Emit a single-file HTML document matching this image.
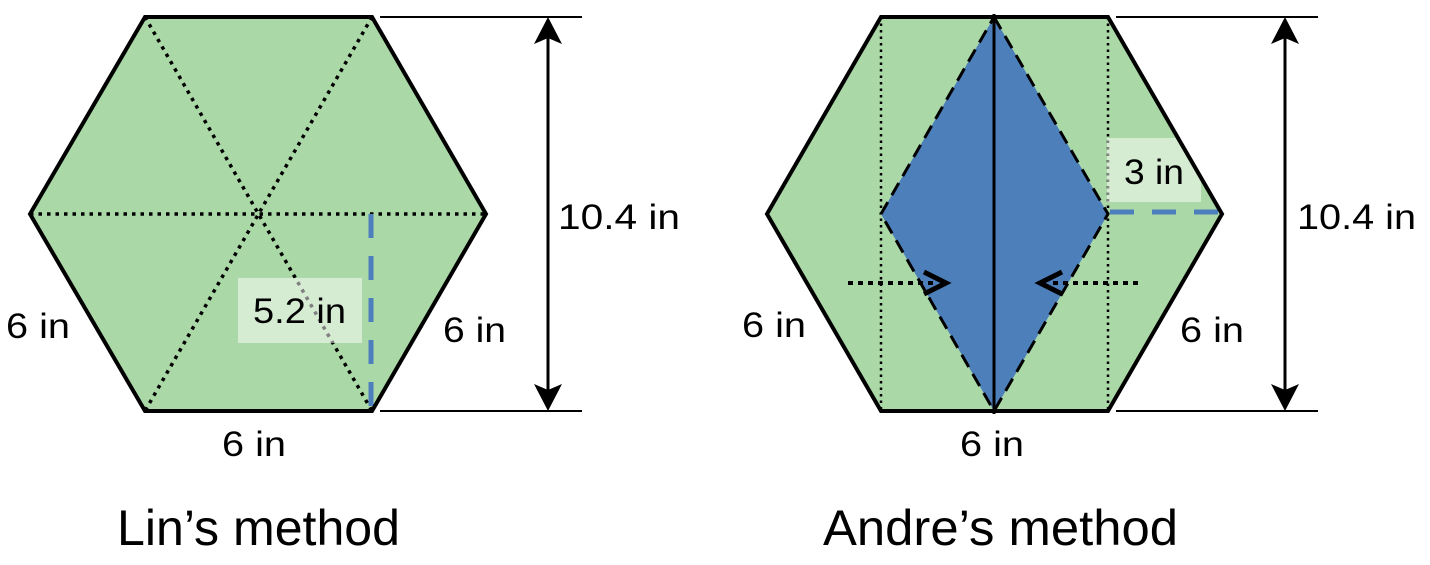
<!DOCTYPE html>
<html><head><style>html,body{margin:0;padding:0;background:#fff}svg{display:block}</style></head>
<body>
<svg width="1430" height="565" viewBox="0 0 1430 565" xmlns="http://www.w3.org/2000/svg" font-family="Liberation Sans, sans-serif">
<!-- Left hexagon -->
<polygon points="145,17 372,17 486,214 372,411 145,411 30,214" fill="#abd8a7"/>
<g stroke="#000" stroke-width="3.5" stroke-dasharray="3.5,5" fill="none">
<line x1="145" y1="17" x2="372" y2="411"/>
<line x1="372" y1="17" x2="145" y2="411"/>
<line x1="30" y1="214" x2="486" y2="214"/>
</g>
<line x1="371" y1="214" x2="371" y2="408" stroke="#4c7fbb" stroke-width="5" stroke-dasharray="24,18"/>
<rect x="238" y="278" width="124" height="65" fill="#fff" fill-opacity="0.5"/>
<polygon points="145,17 372,17 486,214 372,411 145,411 30,214" fill="none" stroke="#000" stroke-width="4" stroke-linejoin="miter"/>
<line x1="380" y1="17" x2="582" y2="17" stroke="#000" stroke-width="2"/>
<line x1="380" y1="411" x2="582" y2="411" stroke="#000" stroke-width="2"/>
<line x1="548" y1="30" x2="548" y2="398" stroke="#000" stroke-width="3"/>
<polygon points="548,17 562,44 548,38 534,44" fill="#000"/>
<polygon points="548,411 562,384 548,390 534,384" fill="#000"/>
<g font-size="35" fill="#000">
<text x="253" y="323" textLength="93" lengthAdjust="spacingAndGlyphs">5.2 in</text>
<text x="6" y="338" textLength="64" lengthAdjust="spacingAndGlyphs">6 in</text>
<text x="443" y="342" textLength="63" lengthAdjust="spacingAndGlyphs">6 in</text>
<text x="222" y="456" textLength="64" lengthAdjust="spacingAndGlyphs">6 in</text>
<text x="558" y="229" textLength="122" lengthAdjust="spacingAndGlyphs">10.4 in</text>
<text x="742" y="337" textLength="64" lengthAdjust="spacingAndGlyphs">6 in</text>
<text x="1180" y="342" textLength="64" lengthAdjust="spacingAndGlyphs">6 in</text>
<text x="960" y="456" textLength="64" lengthAdjust="spacingAndGlyphs">6 in</text>
<text x="1297" y="229" textLength="119" lengthAdjust="spacingAndGlyphs">10.4 in</text>
</g>
<g font-size="50" fill="#000">
<text x="117" y="545" textLength="283" lengthAdjust="spacingAndGlyphs">Lin’s method</text>
<text x="823" y="545" textLength="355" lengthAdjust="spacingAndGlyphs">Andre’s method</text>
</g>
<!-- Right hexagon -->
<polygon points="881,17 1108,17 1222,214 1108,411 881,411 767,214" fill="#abd8a7"/>
<polygon points="994,17 1108,214 994,411 881,214" fill="#4d7fba"/>
<g stroke="#000" stroke-width="2.5" stroke-dasharray="2.5,4" fill="none">
<line x1="881" y1="17" x2="881" y2="411"/>
<line x1="1108" y1="17" x2="1108" y2="411"/>
</g>
<rect x="1107" y="138" width="94" height="64" fill="#fff" fill-opacity="0.5"/>
<line x1="1110" y1="212" x2="1220" y2="212" stroke="#4c7fbb" stroke-width="5" stroke-dasharray="24,18"/>
<polygon points="994,17 1108,214 994,411 881,214" fill="none" stroke="#000" stroke-width="3" stroke-dasharray="14,8"/>
<line x1="994" y1="14" x2="994" y2="414" stroke="#000" stroke-width="3"/>
<g stroke="#000" stroke-width="4" stroke-dasharray="5,5" fill="none">
<line x1="848" y1="283" x2="935" y2="283"/>
<line x1="1138" y1="283" x2="1052" y2="283"/>
</g>
<polyline points="924,272 946,283 924,294" fill="none" stroke="#000" stroke-width="5"/>
<polyline points="1062,272 1040,283 1062,294" fill="none" stroke="#000" stroke-width="5"/>
<polygon points="881,17 1108,17 1222,214 1108,411 881,411 767,214" fill="none" stroke="#000" stroke-width="4"/>
<text x="1124" y="184" font-size="35" textLength="60" lengthAdjust="spacingAndGlyphs">3 in</text>
<line x1="1116" y1="17" x2="1318" y2="17" stroke="#000" stroke-width="2"/>
<line x1="1116" y1="411" x2="1318" y2="411" stroke="#000" stroke-width="2"/>
<line x1="1285" y1="30" x2="1285" y2="398" stroke="#000" stroke-width="3"/>
<polygon points="1285,17 1299,44 1285,38 1271,44" fill="#000"/>
<polygon points="1285,411 1299,384 1285,390 1271,384" fill="#000"/>
</svg>
</body></html>
